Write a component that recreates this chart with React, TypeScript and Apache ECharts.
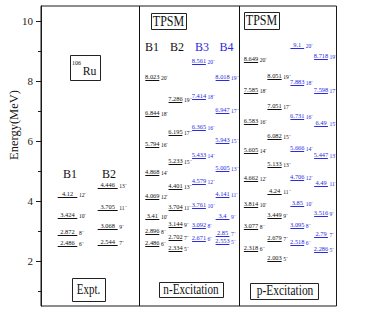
import React, { useEffect, useRef } from "react";
import * as echarts from "echarts";

// ---- axis ticks ----
const yMajorTicks = [2, 4, 6, 8, 10];
const yMinorTicks = [1, 3, 5, 7, 9];

// ---- Expt. ----
const exptB1Energy = [2.486, 2.872, 3.424, 4.12];
const exptB1Spin = [6, 8, 10, 12];
const exptB2Energy = [2.544, 3.068, 3.705, 4.446];
const exptB2Spin = [7, 9, 11, 13];

// ---- TPSM n-Excitation ----
const nB1Energy = [2.486, 2.896, 3.41, 4.069, 4.868, 5.794, 6.844, 8.023];
const nB1Spin = [6, 8, 10, 12, 14, 16, 18, 20];
const nB2Energy = [2.334, 2.702, 3.144, 3.704, 4.401, 5.233, 6.195, 7.286];
const nB2Spin = [5, 7, 9, 11, 13, 15, 17, 19];
const nB3Energy = [2.671, 3.092, 3.761, 4.579, 5.433, 6.365, 7.414, 8.561];
const nB3Spin = [6, 8, 10, 12, 14, 16, 18, 20];
const nB4Energy = [2.553, 2.85, 3.4, 4.141, 5.005, 5.943, 6.947, 8.018];
const nB4Spin = [5, 7, 9, 11, 13, 15, 17, 19];

// ---- TPSM p-Excitation ----
const pB1Energy = [2.318, 3.077, 3.814, 4.662, 5.605, 6.583, 7.585, 8.649];
const pB1Spin = [6, 8, 10, 12, 14, 16, 18, 20];
const pB2Energy = [2.003, 2.679, 3.449, 4.24, 5.133, 6.082, 7.051, 8.051];
const pB2Spin = [5, 7, 9, 11, 13, 15, 17, 19];
const pB3Energy = [2.518, 3.095, 3.85, 4.706, 5.666, 6.731, 7.883, 9.1];
const pB3Spin = [6, 8, 10, 12, 14, 16, 18, 20];
const pB4Energy = [2.286, 2.79, 3.516, 4.49, 5.447, 6.49, 7.598, 8.718];
const pB4Spin = [5, 7, 9, 11, 13, 15, 17, 19];

const BLACK = "#111111";
const BLUE = "#2b2bdf";
const SERIF = '"Liberation Serif", "Times New Roman", serif';

const bands = [
  { name: "Expt B1", energies: exptB1Energy, spins: exptB1Spin, x: 0.269, w: 0.199, color: BLACK },
  { name: "Expt B2", energies: exptB2Energy, spins: exptB2Spin, x: 0.677, w: 0.203, color: BLACK },
  { name: "n B1", energies: nB1Energy, spins: nB1Spin, x: 1.13, w: 0.142, color: BLACK },
  { name: "n B2", energies: nB2Energy, spins: nB2Spin, x: 1.365, w: 0.14, color: BLACK },
  { name: "n B3", energies: nB3Energy, spins: nB3Spin, x: 1.604, w: 0.14, color: BLUE },
  { name: "n B4", energies: nB4Energy, spins: nB4Spin, x: 1.843, w: 0.14, color: BLUE },
  { name: "p B1", energies: pB1Energy, spins: pB1Spin, x: 2.132, w: 0.145, color: BLACK },
  { name: "p B2", energies: pB2Energy, spins: pB2Spin, x: 2.371, w: 0.145, color: BLACK },
  { name: "p B3", energies: pB3Energy, spins: pB3Spin, x: 2.602, w: 0.14, color: BLUE },
  { name: "p B4", energies: pB4Energy, spins: pB4Spin, x: 2.843, w: 0.14, color: BLUE },
];

function makeSeries(band: any, idx: number) {
  const s: any = {
    type: "custom",
    name: band.name,
    coordinateSystem: "cartesian2d",
    silent: true,
    data: band.energies.map((e: number) => [band.x, e]),
    encode: { x: 0, y: 1 },
    renderItem: (params: any, api: any) => {
      const i = params.dataIndex;
      const p = api.coord([api.value(0), api.value(1)]);
      const half = api.size([band.w, 0])[0] / 2;
      const x1 = p[0] - half;
      const x2 = p[0] + half;
      const y = Math.round(p[1]) + 0.5;
      return {
        type: "group",
        children: [
          {
            type: "line",
            shape: { x1, y1: y, x2, y2: y },
            style: { stroke: band.color, lineWidth: 1 },
          },
          {
            type: "text",
            x: p[0],
            y: y - 0.6,
            style: {
              text: String(band.energies[i]),
              fill: band.color,
              fontSize: 6.4,
              fontFamily: SERIF,
              align: "center",
              verticalAlign: "bottom",
              textAlign: "center",
              textVerticalAlign: "bottom",
            },
          },
          {
            type: "text",
            x: x2 + 1.6,
            y: y + 0.8,
            style: {
              text: band.spins[i] + "\u207B",
              fill: band.color,
              fontSize: 5.6,
              fontFamily: SERIF,
              align: "left",
              verticalAlign: "bottom",
              textAlign: "left",
              textVerticalAlign: "bottom",
            },
          },
        ],
      };
    },
  };
  if (idx === 0) {
    s.markLine = {
      silent: true,
      symbol: "none",
      label: { show: false },
      lineStyle: { color: BLACK, width: 1, type: "solid" },
      data: [{ xAxis: 1.0 }, { xAxis: 2.013 }],
    };
  }
  return s;
}

function txt(text: string, x: number, y: number, size: number, color = BLACK, scaleX = 1, align = "center") {
  return {
    type: "text",
    x,
    y,
    scaleX,
    silent: true,
    style: {
      text,
      fill: color,
      fontSize: size,
      fontFamily: SERIF,
      textAlign: align,
      textVerticalAlign: "middle",
      align,
      verticalAlign: "middle",
    },
  };
}

function box(x: number, y: number, w: number, h: number) {
  return {
    type: "rect",
    silent: true,
    shape: { x: x + 0.5, y: y + 0.5, width: w, height: h },
    style: { fill: "#fff", stroke: "#222", lineWidth: 1 },
  };
}

export default function App() {
  const ref = useRef<HTMLDivElement>(null);
  useEffect(() => {
    if (!ref.current) return;
    document.body.style.margin = "0";
    const chart = echarts.init(ref.current, undefined, { renderer: "svg" });
    const option: any = {
      animation: false,
      backgroundColor: "#ffffff",
      grid: {
        left: 41,
        right: 36.5,
        top: 6,
        bottom: 8,
        show: true,
        borderColor: "#1a1a1a",
        borderWidth: 1,
        backgroundColor: "transparent",
      },
      xAxis: {
        type: "value",
        min: 0,
        max: 3,
        show: false,
        splitLine: { show: false },
      },
      yAxis: [
        {
          type: "value",
          min: 0.5,
          max: 10.5,
          position: "left",
          axisLine: { show: true, lineStyle: { color: "#1a1a1a" } },
          axisTick: {
            show: true,
            length: 5,
            customValues: yMajorTicks,
            lineStyle: { color: "#1a1a1a" },
          },
          axisLabel: {
            show: true,
            customValues: yMajorTicks,
            margin: 8,
            color: "#222",
            fontSize: 11,
            fontFamily: SERIF,
          },
          splitLine: { show: false },
        },
        {
          type: "value",
          min: 0.5,
          max: 10.5,
          position: "left",
          offset: 0,
          axisLine: { show: false },
          axisTick: {
            show: true,
            length: 3,
            customValues: yMinorTicks,
            lineStyle: { color: "#1a1a1a" },
          },
          axisLabel: { show: false },
          splitLine: { show: false },
        },
      ],
      graphic: [
        {
          type: "text",
          x: 14,
          y: 125,
          rotation: Math.PI / 2,
          silent: true,
          style: {
            text: "Energy(MeV)",
            fill: "#111",
            fontSize: 12.5,
            fontFamily: SERIF,
            textAlign: "center",
            textVerticalAlign: "middle",
            align: "center",
            verticalAlign: "middle",
          },
        },
        // Expt panel
        box(70, 55, 30, 25),
        txt("106", 76.5, 62, 7, BLACK, 0.85),
        txt("Ru", 89.5, 70.5, 13, BLACK, 0.9),
        txt("B1", 70, 174, 12),
        txt("B2", 109, 174, 12),
        box(72, 278, 33, 23),
        txt("Expt.", 88.5, 289.5, 14, BLACK, 0.78),
        // n-Excitation panel
        box(151, 13, 35, 16),
        txt("TPSM", 168.5, 21, 15, BLACK, 0.8),
        txt("B1", 152, 47, 12),
        txt("B2", 177, 47, 12),
        txt("B3", 202, 47, 12, BLUE),
        txt("B4", 226.5, 47, 12, BLUE),
        box(159, 282, 64, 15),
        txt("n-Excitation", 191, 289.5, 14, BLACK, 0.8),
        // p-Excitation panel
        box(244, 12, 35, 17),
        txt("TPSM", 261.5, 20.5, 15, BLACK, 0.8),
        box(250, 283, 68, 16),
        txt("p-Excitation", 285, 291, 14, BLACK, 0.82),
      ],
      series: bands.map((b, i) => makeSeries(b, i)),
    };
    chart.setOption(option);
    return () => chart.dispose();
  }, []);
  return (
    <div
      ref={ref}
      style={{ position: "fixed", left: 0, top: 0, width: 373, height: 314 }}
    />
  );
}
